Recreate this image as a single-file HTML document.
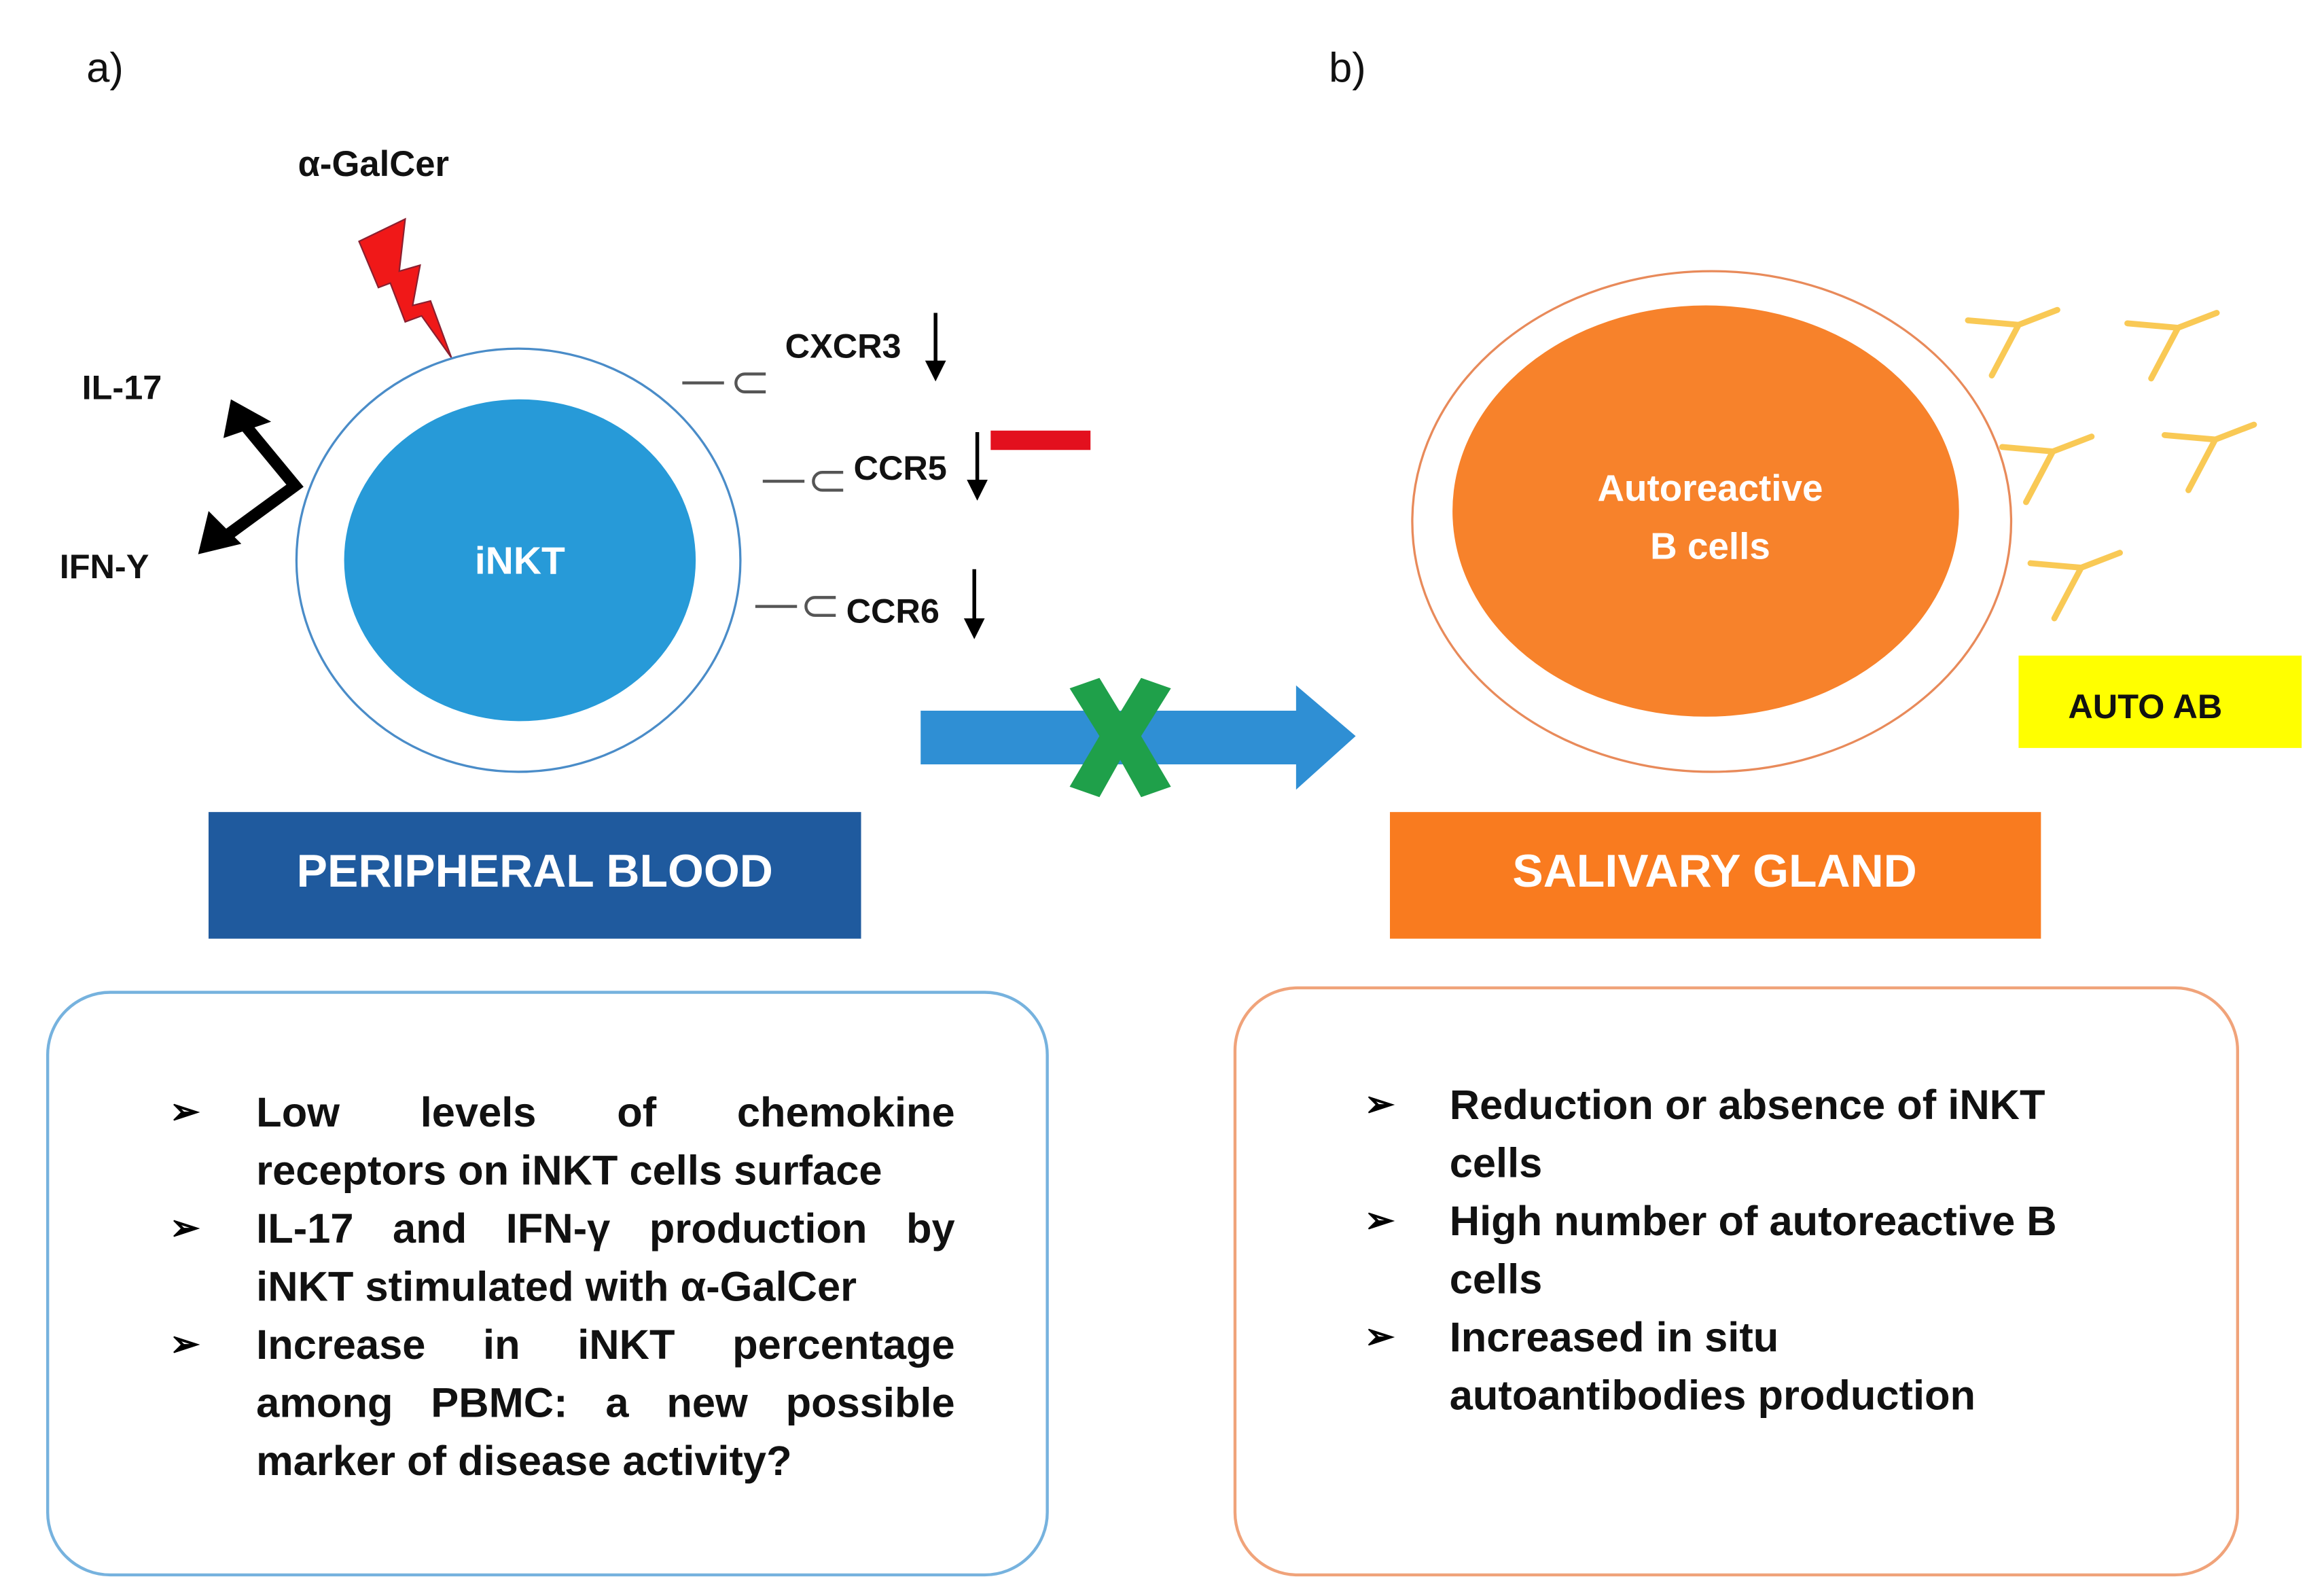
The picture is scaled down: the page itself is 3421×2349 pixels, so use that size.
<!DOCTYPE html>
<html><head><meta charset="utf-8">
<style>
html,body{margin:0;padding:0;background:#fff;}
body{width:3421px;height:2348px;overflow:hidden;position:relative;}
#c{position:absolute;left:0;top:0;width:1560px;height:1070.7px;transform-origin:0 0;transform:scale(2.19295);font-family:"Liberation Sans",sans-serif;font-weight:bold;}
svg{position:absolute;left:0;top:0;}
.p{position:absolute;font-size:28px;line-height:39px;color:#111;}
.j{text-align:justify;text-align-last:justify;white-space:nowrap;}
.l{text-align:left;white-space:nowrap;}
.b{position:absolute;font-size:24px;line-height:39px;}
</style></head><body>
<div id="c">
<svg width="1560" height="1071" viewBox="0 0 1560 1071">
<g font-family="Liberation Sans, sans-serif" font-weight="bold">
<text x="58" y="55" font-size="28" font-weight="normal" fill="#111">a)</text>
<text x="892" y="55" font-size="28" font-weight="normal" fill="#111">b)</text>
<text x="200" y="118" font-size="24" fill="#111">α-GalCer</text>
<text x="55" y="268" font-size="23" fill="#111">IL-17</text>
<text x="40" y="388" font-size="23" fill="#111">IFN-Y</text>
<text x="527" y="240" font-size="23" fill="#111">CXCR3</text>
<text x="573" y="322" font-size="23" fill="#111">CCR5</text>
<text x="568" y="418" font-size="23" fill="#111">CCR6</text>
</g>
<!-- lightning -->
<polygon points="241,162 272,147 268,182 282,178 277,205 289,202 303,240 283,212 272,216 262,190 254,193" fill="#f01818" stroke="#8a2030" stroke-width="1"/>
<!-- iNKT cell -->
<ellipse cx="348" cy="376" rx="149" ry="142" fill="#fff" stroke="#4a8cc8" stroke-width="1.5"/>
<ellipse cx="349" cy="376" rx="118" ry="108" fill="#279ad8"/>
<text x="349" y="385" font-size="26" fill="#fff" font-weight="bold" text-anchor="middle" font-family="Liberation Sans, sans-serif">iNKT</text>
<!-- zigzag arrow -->
<polyline points="160,280 198,326 146,364" fill="none" stroke="#000" stroke-width="8" stroke-linejoin="miter"/>
<polygon points="155,268 182,283 150,294" fill="#000"/>
<polygon points="133,372 140,343 162,365" fill="#000"/>
<!-- receptors -->
<g stroke="#555" stroke-width="2" fill="none">
<path d="M458,257 h28 M514,251 h-14 a6,6 0 0 0 0,12 h14"/>
<path d="M512,323 h28 M566,317 h-14 a6,6 0 0 0 0,12 h14"/>
<path d="M507,407 h28 M561,401 h-14 a6,6 0 0 0 0,12 h14"/>
</g>
<g stroke="#000" stroke-width="2.5">
<line x1="628" y1="210" x2="628" y2="245"/>
<line x1="656" y1="290" x2="656" y2="325"/>
<line x1="654" y1="382" x2="654" y2="418"/>
</g>
<polygon points="621,242 635,242 628,256" fill="#000"/>
<polygon points="649,322 663,322 656,336" fill="#000"/>
<polygon points="647,415 661,415 654,429" fill="#000"/>
<rect x="665" y="289" width="67" height="13" fill="#e3101e"/>
<!-- blue arrow -->
<polygon points="618,477 870,477 870,460 910,494 870,530 870,513 618,513" fill="#2f8fd4"/>
<!-- green X -->
<g fill="#1fa04a">
<polygon points="718,462 738,455 752,478 766,455 786,462 766,494 786,528 766,535 752,510 738,535 718,528 738,494"/>
</g>
<!-- boxes -->
<rect x="140" y="545" width="438" height="85" fill="#1f5a9e"/>
<text x="359" y="595" font-size="31" fill="#fff" text-anchor="middle" font-family="Liberation Sans, sans-serif" font-weight="bold">PERIPHERAL BLOOD</text>
<rect x="933" y="545" width="437" height="85" fill="#f97b1f"/>
<text x="1151" y="595" font-size="31" fill="#fff" text-anchor="middle" font-family="Liberation Sans, sans-serif" font-weight="bold">SALIVARY GLAND</text>
<!-- B cell -->
<ellipse cx="1149" cy="350" rx="201" ry="168" fill="#fff" stroke="#e88a5a" stroke-width="1.5"/>
<ellipse cx="1145" cy="343" rx="170" ry="138" fill="#f7822b"/>
<text x="1148" y="336" font-size="25" fill="#fff" text-anchor="middle" font-family="Liberation Sans, sans-serif" font-weight="bold">Autoreactive</text>
<text x="1148" y="375" font-size="25" fill="#fff" text-anchor="middle" font-family="Liberation Sans, sans-serif" font-weight="bold">B cells</text>
<!-- antibodies -->
<g fill="none" stroke="#f9c955" stroke-width="4" stroke-linecap="round">
<path d="M1321,215 L1355,218 L1381,208 M1355,218 L1337,252"/>
<path d="M1428,217 L1462,220 L1488,210 M1462,220 L1444,254"/>
<path d="M1344,300 L1378,303 L1404,293 M1378,303 L1360,337"/>
<path d="M1453,292 L1487,295 L1513,285 M1487,295 L1469,329"/>
<path d="M1363,378 L1397,381 L1423,371 M1397,381 L1379,415"/>
</g>
<rect x="1355" y="440" width="190" height="62" fill="#ffff00"/>
<text x="1440" y="482" font-size="23" fill="#111" text-anchor="middle" font-family="Liberation Sans, sans-serif" font-weight="bold">AUTO AB</text>
<!-- bottom boxes -->
<rect x="32" y="666" width="671" height="391" rx="42" fill="none" stroke="#76b2de" stroke-width="2"/>
<rect x="829" y="663" width="673" height="394" rx="42" fill="none" stroke="#f0a37a" stroke-width="2"/>
</svg>
<!-- left text -->
<div class="b" style="left:114px;top:727px;">➢</div>
<div class="b" style="left:114px;top:805px;">➢</div>
<div class="b" style="left:114px;top:883px;">➢</div>
<div class="p" style="left:172px;top:727px;width:469px;">
<div class="j">Low levels of chemokine</div>
<div class="l">receptors on iNKT cells surface</div>
<div class="j">IL-17 and IFN-γ production by</div>
<div class="l">iNKT stimulated with α-GalCer</div>
<div class="j">Increase in iNKT percentage</div>
<div class="j">among PBMC: a new possible</div>
<div class="l">marker of disease activity?</div>
</div>
<!-- right text -->
<div class="b" style="left:916px;top:722px;">➢</div>
<div class="b" style="left:916px;top:800px;">➢</div>
<div class="b" style="left:916px;top:878px;">➢</div>
<div class="p" style="left:973px;top:722px;width:480px;">
<div class="l">Reduction or absence of iNKT</div>
<div class="l">cells</div>
<div class="l">High number of autoreactive B</div>
<div class="l">cells</div>
<div class="l">Increased in situ</div>
<div class="l">autoantibodies production</div>
</div>
</div>
</body></html>
